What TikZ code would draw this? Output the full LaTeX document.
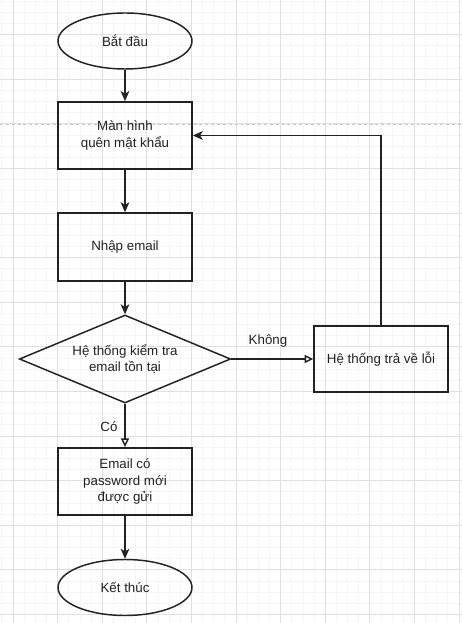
\documentclass[tikz,border=0pt]{standalone}
\usepackage{fontspec}
\setmainfont{Liberation Sans}
\usetikzlibrary{arrows.meta,shapes.geometric}
\definecolor{minorgrid}{HTML}{F5F5F5}
\definecolor{majorgrid}{HTML}{E0E0E0}
\definecolor{ink}{HTML}{222222}
\tikzset{
  base/.style={draw=ink, line width=1.1pt, text=ink, align=center, inner sep=0pt,
    font=\fontsize{10}{12.5}\selectfont},
  terminal/.style={base, ellipse, minimum width=100.5pt, minimum height=42pt},
  process/.style={base, rectangle, minimum width=100.5pt, minimum height=50.5pt},
  decision/.style={base, diamond, aspect=2.4, minimum width=158.5pt, minimum height=66pt},
  flow/.style={draw=ink, line width=1.1pt, -{Stealth[length=7.5pt,width=6.5pt,inset=2pt]}},
  flowopen/.style={draw=ink, line width=1.1pt, -{Triangle[open,length=6.5pt,width=6pt]}},
  lbl/.style={text=ink, font=\fontsize{10}{12}\selectfont, inner sep=0pt}
}
\begin{document}
\begin{tikzpicture}[x=0.75pt,y=-0.75pt]
\useasboundingbox (0,0) rectangle (462,623);
\fill[white] (0,0) rectangle (462,623);
% minor grid
\foreach \i in {0,...,41} {
  \draw[minorgrid, line width=0.6pt] (1.85+\i*11.15,0) -- (1.85+\i*11.15,623);
}
\foreach \j in {0,...,56} {
  \draw[minorgrid, line width=0.6pt] (0,1.15+\j*11.15) -- (462,1.15+\j*11.15);
}
% major grid
\foreach \i in {0,...,10} {
  \draw[majorgrid, line width=0.7pt] (13+\i*44.6,0) -- (13+\i*44.6,623);
}
\foreach \j in {0,...,13} {
  \draw[majorgrid, line width=0.7pt] (0,34.6+\j*44.6) -- (462,34.6+\j*44.6);
}
% page break line
\draw[gray!45, line width=0.7pt, dash pattern=on 2.2pt off 2.2pt] (0,124) -- (462,124);

% nodes
\node[terminal] (start) at (125,41) {Bắt đầu};
\node[process] (screen) at (125,135.5) {Màn hình\\quên mật khẩu};
\node[process, minimum height=51pt] (input) at (125,247) {Nhập email};
\node[decision] (check) at (125,359) {Hệ thống kiểm tra\\email tồn tại};
\node[process, minimum height=49.5pt] (err) at (381,359) {Hệ thống trả về lỗi};
\node[process] (sent) at (125,481.5) {Email có\\password mới\\được gửi};
\node[terminal] (stop) at (125,587.5) {Kết thúc};

% connectors
\draw[flow] (start) -- (screen);
\draw[flow] (screen) -- (input);
\draw[flow] (input) -- (check);
\draw[flowopen] (check.east) -- (err.west);
\draw[flowopen] (check.south) -- (sent.north);
\draw[flow] (err.north) |- (screen.east);
\draw[flow] (sent) -- (stop);

% labels
\node[lbl] (no) at (268,341) {Không};
\node[lbl] (yes) at (109,427) {Có};
\end{tikzpicture}
\end{document}
